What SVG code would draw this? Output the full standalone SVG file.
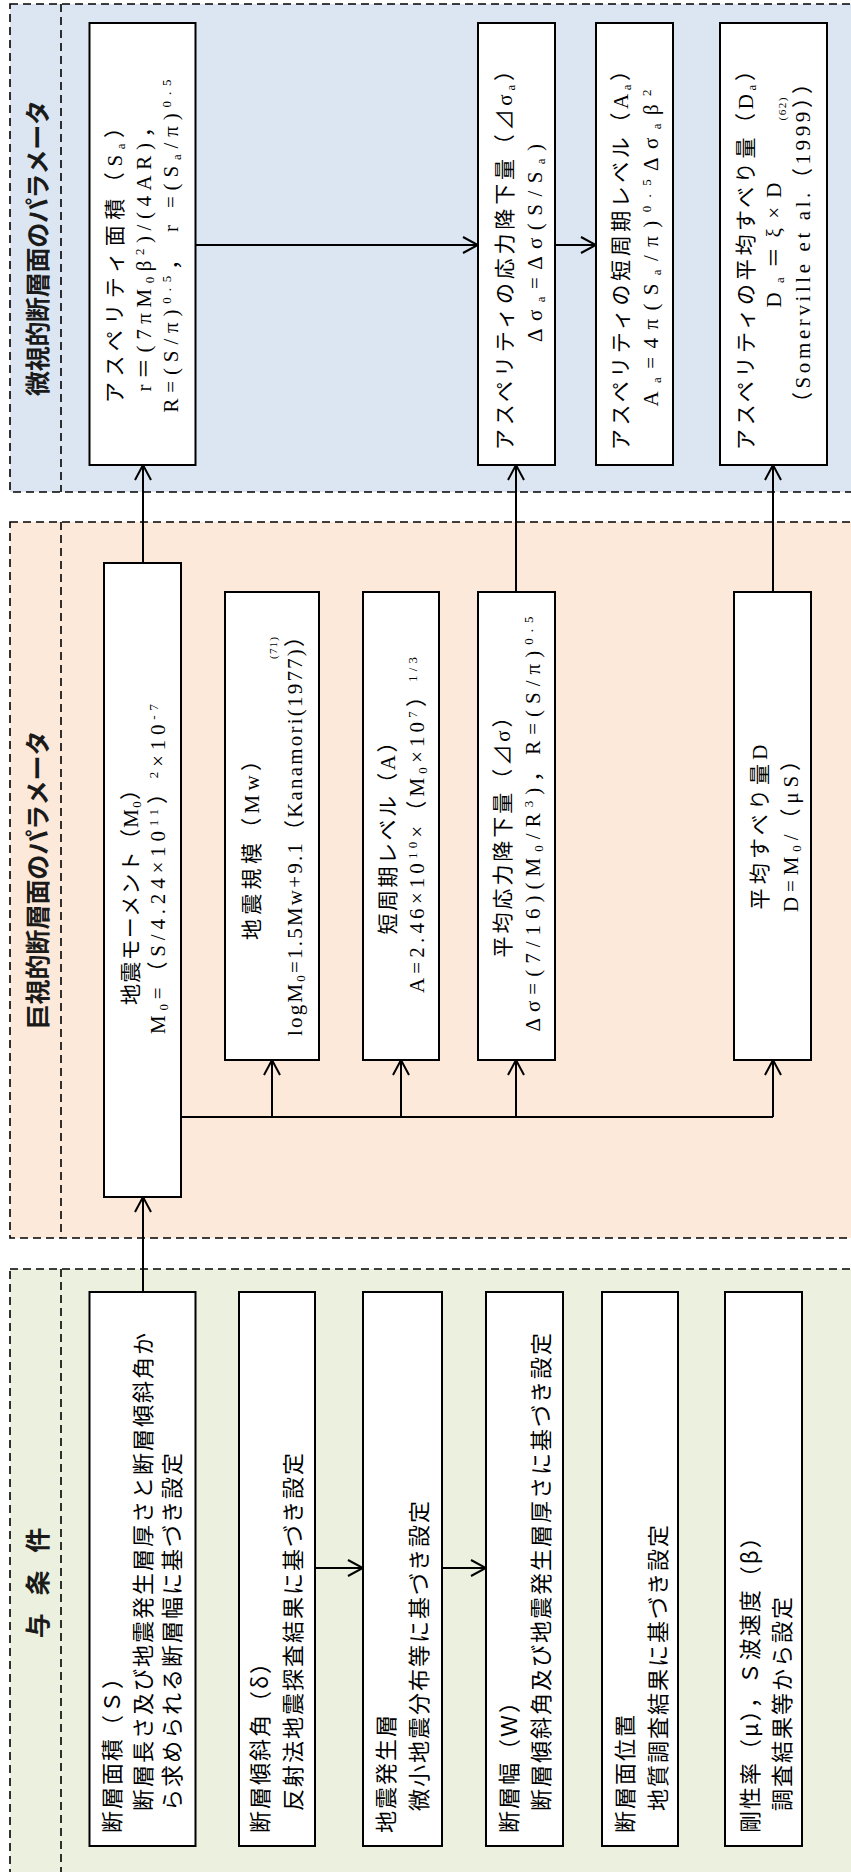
<svg xmlns="http://www.w3.org/2000/svg" width="851" height="1872" viewBox="0 0 851 1872">
<defs>
<marker id="arr" markerUnits="userSpaceOnUse" markerWidth="18" markerHeight="20" viewBox="0 0 18 20" refX="17" refY="10" orient="auto"><path d="M2,2 L17,10 L2,18" fill="none" stroke="#000" stroke-width="2"/></marker>
<style>
.bg-top{fill:#DCE6F2}
.bg-mid{fill:#FDE9D9}
.bg-bot{fill:#EBF1DE}
.dash{fill:none;stroke:#000;stroke-width:1.6;stroke-dasharray:8 5}
.box{fill:#fff;stroke:#000;stroke-width:2}
.conn line{stroke:#000;stroke-width:2;fill:none}
.ttl{font-family:"Noto Sans CJK JP",sans-serif;font-size:25px;font-weight:bold;fill:#1a1a1a}
.g{font-family:"Noto Sans CJK JP",sans-serif;font-size:22px;letter-spacing:2px;fill:#000}
.s{font-family:"Liberation Serif","Noto Sans CJK JP",serif;font-size:21px;fill:#000;text-anchor:middle}
.sm{font-size:13px}
.xs{font-family:"Liberation Serif","Noto Sans CJK JP",serif;font-size:11px;fill:#000;text-anchor:middle}
</style>
</defs>

<g id="panel-micro">
<rect class="bg-top" x="10" y="4" width="860" height="488"/>
<rect class="dash" x="10" y="4" width="860" height="488"/>
<line class="dash" x1="61" y1="4" x2="61" y2="492"/>
<text class="ttl" text-anchor="middle" textLength="296" lengthAdjust="spacing" transform="translate(47,248) rotate(-90)">微視的断層面のパラメータ</text>
</g>
<g id="panel-macro">
<rect class="bg-mid" x="10" y="522" width="860" height="716"/>
<rect class="dash" x="10" y="522" width="860" height="716"/>
<line class="dash" x1="61" y1="522" x2="61" y2="1238"/>
<text class="ttl" text-anchor="middle" textLength="299" lengthAdjust="spacing" transform="translate(47,880) rotate(-90)">巨視的断層面のパラメータ</text>
</g>
<g id="panel-given">
<rect class="bg-bot" x="10" y="1269" width="860" height="640"/>
<rect class="dash" x="10" y="1269" width="860" height="640"/>
<line class="dash" x1="61" y1="1269" x2="61" y2="1909"/>
<text class="ttl" text-anchor="middle" style="letter-spacing:6px" transform="translate(47,1580) rotate(-90)">与 条 件</text>
</g>

<g id="connectors" class="conn">
<line x1="143" y1="1292" x2="143" y2="1197" marker-end="url(#arr)"/>
<line x1="143" y1="563" x2="143" y2="465" marker-end="url(#arr)"/>
<line x1="181" y1="1117" x2="773" y2="1117"/>
<line x1="272" y1="1117" x2="272" y2="1060" marker-end="url(#arr)"/>
<line x1="401" y1="1117" x2="401" y2="1060" marker-end="url(#arr)"/>
<line x1="516" y1="1117" x2="516" y2="1060" marker-end="url(#arr)"/>
<line x1="773" y1="1117" x2="773" y2="1060" marker-end="url(#arr)"/>
<line x1="516" y1="592" x2="516" y2="465" marker-end="url(#arr)"/>
<line x1="773" y1="592" x2="773" y2="465" marker-end="url(#arr)"/>
<line x1="195.5" y1="245" x2="478" y2="245" marker-end="url(#arr)"/>
<line x1="555" y1="245" x2="596" y2="245" marker-end="url(#arr)"/>
<line x1="315" y1="1568" x2="363" y2="1568" marker-end="url(#arr)"/>
<line x1="442" y1="1568" x2="486" y2="1568" marker-end="url(#arr)"/>
</g>

<g id="asperity-area">
<rect class="box" x="89.5" y="23" width="106" height="442"/>
<text class="s" textLength="286" lengthAdjust="spacing" transform="translate(122,260) rotate(-90)">アスペリティ面積（S<tspan class="sm" baseline-shift="-3">a</tspan>）</text>
<text class="s" textLength="275" lengthAdjust="spacing" transform="translate(151,254) rotate(-90)">r＝(7πM<tspan class="sm" baseline-shift="-3">0</tspan>β<tspan class="sm" baseline-shift="7">2</tspan>)/(4AR)，</text>
<text class="s" textLength="333" lengthAdjust="spacing" transform="translate(178,246) rotate(-90)">R=(S/π)<tspan class="sm" baseline-shift="7">0.5</tspan>， r =(S<tspan class="sm" baseline-shift="-3">a</tspan>/π)<tspan class="sm" baseline-shift="7">0.5</tspan></text>
</g>
<g id="asperity-stress-drop">
<rect class="box" x="478" y="23" width="77" height="442"/>
<text class="s" textLength="390" lengthAdjust="spacing" transform="translate(512,255) rotate(-90)">アスペリティの応力降下量（⊿σ<tspan class="sm" baseline-shift="-3">a</tspan>）</text>
<text class="s" textLength="198" lengthAdjust="spacing" transform="translate(542,243) rotate(-90)">Δσ<tspan class="sm" baseline-shift="-3">a</tspan>=Δσ(S/S<tspan class="sm" baseline-shift="-3">a</tspan>)</text>
</g>
<g id="asperity-short-period">
<rect class="box" x="596" y="23" width="77" height="442"/>
<text class="s" textLength="390" lengthAdjust="spacing" transform="translate(628,255) rotate(-90)">アスペリティの短周期レベル（A<tspan class="sm" baseline-shift="-3">a</tspan>）</text>
<text class="s" textLength="317" lengthAdjust="spacing" transform="translate(658,248) rotate(-90)">A<tspan class="sm" baseline-shift="-3">a</tspan>=4π(S<tspan class="sm" baseline-shift="-3">a</tspan>/π)<tspan class="sm" baseline-shift="7">0.5</tspan>Δσ<tspan class="sm" baseline-shift="-3">a</tspan>β<tspan class="sm" baseline-shift="7">2</tspan></text>
</g>
<g id="asperity-slip">
<rect class="box" x="720" y="23" width="107" height="442"/>
<text class="s" textLength="390" lengthAdjust="spacing" transform="translate(753,255) rotate(-90)">アスペリティの平均すべり量（D<tspan class="sm" baseline-shift="-3">a</tspan>）</text>
<text class="s" textLength="125" lengthAdjust="spacing" transform="translate(781,245) rotate(-90)">D<tspan class="sm" baseline-shift="-3">a</tspan>＝ξ×D</text>
<text class="xs" textLength="23" lengthAdjust="spacing" transform="translate(786,109) rotate(-90)">(62)</text>
<text class="s" textLength="340" lengthAdjust="spacing" transform="translate(810,243) rotate(-90)">（Somerville et al.（1999））</text>
</g>

<g id="seismic-moment">
<rect class="box" x="104" y="563" width="77" height="634"/>
<text class="s" textLength="226" lengthAdjust="spacing" transform="translate(138,892) rotate(-90)">地震モーメント（M<tspan class="sm" baseline-shift="-3">0</tspan>）</text>
<text class="s" textLength="330" lengthAdjust="spacing" transform="translate(165,869) rotate(-90)">M<tspan class="sm" baseline-shift="-3">0</tspan>=（S/4.24×10<tspan class="sm" baseline-shift="7">11</tspan>）<tspan class="sm" baseline-shift="7">2</tspan>×10<tspan class="sm" baseline-shift="7">-7</tspan></text>
</g>
<g id="magnitude">
<rect class="box" x="225" y="592" width="94" height="468"/>
<text class="s" textLength="190" lengthAdjust="spacing" transform="translate(259,845) rotate(-90)">地震規模（Mw）</text>
<text class="xs" textLength="22" lengthAdjust="spacing" transform="translate(277,648) rotate(-90)">(71)</text>
<text class="s" textLength="410" lengthAdjust="spacing" transform="translate(302,831) rotate(-90)">logM<tspan class="sm" baseline-shift="-3">0</tspan>=1.5Mw+9.1（Kanamori(1977)）</text>
</g>
<g id="short-period-level">
<rect class="box" x="363" y="592" width="76" height="468"/>
<text class="s" textLength="203" lengthAdjust="spacing" transform="translate(395,833) rotate(-90)">短周期レベル（A）</text>
<text class="s" textLength="336" lengthAdjust="spacing" transform="translate(424,825) rotate(-90)">A=2.46×10<tspan class="sm" baseline-shift="7">10</tspan>×（M<tspan class="sm" baseline-shift="-3">0</tspan>×10<tspan class="sm" baseline-shift="7">7</tspan>）<tspan class="sm" baseline-shift="7">1/3</tspan></text>
</g>
<g id="mean-stress-drop">
<rect class="box" x="478" y="592" width="77" height="468"/>
<text class="s" textLength="251" lengthAdjust="spacing" transform="translate(510,832) rotate(-90)">平均応力降下量（⊿σ）</text>
<text class="s" textLength="415" lengthAdjust="spacing" transform="translate(540,824) rotate(-90)">Δσ=(7/16)(M<tspan class="sm" baseline-shift="-3">0</tspan>/R<tspan class="sm" baseline-shift="7">3</tspan>)，R=(S/π)<tspan class="sm" baseline-shift="7">0.5</tspan></text>
</g>
<g id="mean-slip">
<rect class="box" x="734" y="592" width="77" height="468"/>
<text class="s" textLength="165" lengthAdjust="spacing" transform="translate(767,827) rotate(-90)">平均すべり量D</text>
<text class="s" textLength="162" lengthAdjust="spacing" transform="translate(798,831) rotate(-90)">D=M<tspan class="sm" baseline-shift="-3">0</tspan>/（μS）</text>
</g>

<g id="fault-area">
<rect class="box" x="89.5" y="1292" width="106" height="554"/>
<text class="g" transform="translate(120,1833) rotate(-90)">断層面積（Ｓ）</text>
<text class="g" transform="translate(151,1811) rotate(-90)">断層長さ及び地震発生層厚さと断層傾斜角か</text>
<text class="g" transform="translate(180,1811) rotate(-90)">ら求められる断層幅に基づき設定</text>
</g>
<g id="dip-angle">
<rect class="box" x="239" y="1292" width="76" height="554"/>
<text class="g" transform="translate(268,1833) rotate(-90)">断層傾斜角（δ）</text>
<text class="g" transform="translate(301,1811) rotate(-90)">反射法地震探査結果に基づき設定</text>
</g>
<g id="seismogenic-layer">
<rect class="box" x="363" y="1292" width="79" height="554"/>
<text class="g" transform="translate(394,1833) rotate(-90)">地震発生層</text>
<text class="g" transform="translate(427,1811) rotate(-90)">微小地震分布等に基づき設定</text>
</g>
<g id="fault-width">
<rect class="box" x="486" y="1292" width="77" height="554"/>
<text class="g" transform="translate(517,1833) rotate(-90)">断層幅（Ｗ）</text>
<text class="g" transform="translate(549,1811) rotate(-90)">断層傾斜角及び地震発生層厚さに基づき設定</text>
</g>
<g id="fault-position">
<rect class="box" x="602" y="1292" width="76" height="554"/>
<text class="g" transform="translate(633,1833) rotate(-90)">断層面位置</text>
<text class="g" transform="translate(666,1811) rotate(-90)">地質調査結果に基づき設定</text>
</g>
<g id="rigidity">
<rect class="box" x="725" y="1292" width="77" height="554"/>
<text class="g" transform="translate(758,1833) rotate(-90)">剛性率（μ），Ｓ波速度（β）</text>
<text class="g" transform="translate(790,1811) rotate(-90)">調査結果等から設定</text>
</g>
</svg>
